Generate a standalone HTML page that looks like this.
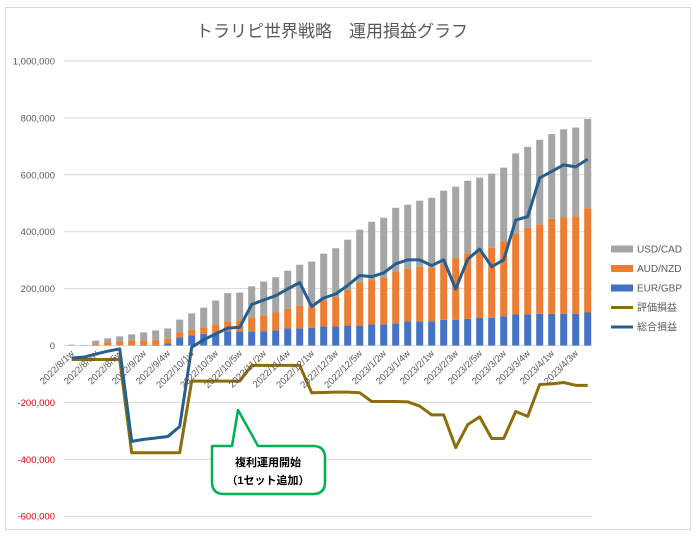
<!DOCTYPE html>
<html><head><meta charset="utf-8">
<style>
html,body{margin:0;padding:0;background:#fff;}
svg{display:block;font-family:"Liberation Sans","Noto Sans CJK JP",sans-serif;}
</style></head>
<body>
<svg id="chart" width="698" height="538" viewBox="0 0 698 538">
<rect x="5.5" y="7.5" width="685" height="522" fill="#fff" stroke="#d9d9d9"/>
<text x="332" y="37" text-anchor="middle" font-size="17" fill="#595959">トラリピ世界戦略　運用損益グラフ</text>
<g id="grid"></g>
<g id="yticks"></g>
<g id="bars"></g>
<g id="lines"></g>
<g id="xticks"></g>
<g>
<path d="M224,446 L212,446 Q212,446 212,458 L212,482 Q212,494 224,494 L313,494 Q325,494 325,482 L325,458 Q325,446 313,446 L258,446 L238,410 L232,446 Z" fill="#fff" stroke="#00b050" stroke-width="2.5" stroke-linejoin="round"/>
<text x="268" y="466" text-anchor="middle" font-size="11" font-weight="bold" fill="#000">複利運用開始</text>
<text x="268" y="484" text-anchor="middle" font-size="11" font-weight="bold" fill="#000">（1セット追加）</text>
</g>
<g id="legend"></g>
</svg>
<script>
const weeks = ["2022/8/1w","2022/8/2w","2022/8/3w","2022/8/4w","2022/8/5w","2022/9/1w","2022/9/2w","2022/9/3w","2022/9/4w","2022/9/5w","2022/10/1w","2022/10/2w","2022/10/3w","2022/10/4w","2022/10/5w","2022/11/1w","2022/11/2w","2022/11/3w","2022/11/4w","2022/11/5w","2022/12/1w","2022/12/2w","2022/12/3w","2022/12/4w","2022/12/5w","2023/1/1w","2023/1/2w","2023/1/3w","2023/1/4w","2023/1/5w","2023/2/1w","2023/2/2w","2023/2/3w","2023/2/4w","2023/2/5w","2023/3/1w","2023/3/2w","2023/3/3w","2023/3/4w","2023/3/5w","2023/4/1w","2023/4/2w","2023/4/3w","2023/4/4w"];
const eurgbp = [0,0,0,0,0,0,2000,2000,8000,29000,35000,41000,43000,50000,50000,50000,50000,53000,60000,60000,62000,67000,67000,70000,69000,74000,74000,78000,85000,85000,85000,90000,90000,94000,97000,97000,102000,109000,109000,111000,111000,111000,111000,116000];
const audnzd = [0,0,5000,12000,15000,18000,16000,18000,15000,18000,20000,23000,31000,35000,38000,49000,55000,63000,69000,80000,73000,91000,103000,125000,153000,156000,166000,183000,184000,192000,190000,199000,218000,230000,236000,246000,264000,285000,304000,314000,334000,339000,343000,366000];
const usdcad = [3000,2000,12000,13000,17000,21000,28000,33000,37000,44000,58000,69000,84000,99000,98000,109000,120000,124000,134000,144000,160000,165000,172000,177000,185000,205000,209000,223000,226000,232000,244000,255000,250000,255000,257000,261000,259000,281000,285000,298000,298000,310000,312000,314000];
const hyoka = [-49000,-49000,-49000,-49000,-49000,-377000,-377000,-377000,-377000,-377000,-125000,-125000,-125000,-125000,-125000,-70000,-70000,-70000,-70000,-70000,-166000,-165000,-164000,-164000,-166000,-197000,-197000,-197000,-198000,-213000,-244000,-244000,-359000,-278000,-251000,-327000,-327000,-232000,-249000,-137000,-135000,-130000,-140000,-140000];
const sogo = [-44000,-41000,-30000,-20000,-12000,-337000,-330000,-325000,-320000,-285000,-6000,20000,41000,61000,64000,144000,160000,175000,199000,221000,137000,167000,181000,211000,246000,242000,255000,287000,301000,301000,281000,301000,199000,303000,339000,277000,301000,441000,453000,589000,612000,635000,628000,655000];
const yTicks = [1000000,800000,600000,400000,200000,0,-200000,-400000,-600000];
const yTickLabels = ["1,000,000","800,000","600,000","400,000","200,000","0","-200,000","-400,000","-600,000"];

const NS="http://www.w3.org/2000/svg";
const X0=65.7, BAND=12, Y0=345.5, PX=284.5/1000000;
function xc(i){return X0+BAND*i+6;}
function y(v){return Y0-v*PX;}
function mk(tag,attrs,parent){const e=document.createElementNS(NS,tag);for(const k in attrs)e.setAttribute(k,attrs[k]);parent.appendChild(e);return e;}

const grid=document.getElementById('grid'), yt=document.getElementById('yticks');
yTicks.forEach((v,i)=>{
  const l=mk('line',{x1:64,x2:592,y1:y(v),y2:y(v),stroke:'#d9d9d9','stroke-width':1},grid);
  
  
  const t=mk('text',{x:55,y:y(v)+3.5,'text-anchor':'end','font-size':9.5,fill:v<0?'#e00000':'#595959'},yt);
  t.textContent=yTickLabels[i];
  
  
});

const bars=document.getElementById('bars');
weeks.forEach((w,i)=>{
  const segs=[[eurgbp[i],'#4472c4','bar-eur-gbp'],[audnzd[i],'#ed7d31','bar-aud-nzd'],[usdcad[i],'#a5a5a5','bar-usd-cad']];
  let base=0;
  segs.forEach(s=>{
    const top=base+s[0];
    const r=mk('rect',{x:xc(i)-3.5,y:y(top),width:7,height:Math.max(0,y(base)-y(top)),fill:s[1]},bars);
    
    
    base=top;
  });
});

const lines=document.getElementById('lines');
function drawLine(arr,color,name){
  const p=mk('polyline',{points:arr.map((v,i)=>xc(i)+','+y(v)).join(' '),fill:'none',stroke:color,'stroke-width':3,'stroke-linejoin':'round'},lines);
  
  
}
drawLine(hyoka,'#8c6d0b','line-hyoka-soneki');
drawLine(sogo,'#255e91','line-sogo-soneki');

const xt=document.getElementById('xticks');
weeks.forEach((w,i)=>{
  if(i%2) return;
  const x=xc(i)+3, yy=354;
  const t=mk('text',{x:x,y:yy,'text-anchor':'end','font-size':9.5,fill:'#595959',transform:`rotate(-45 ${x} ${yy})`},xt);
  t.textContent=w;
  
  
});

const legend=document.getElementById('legend');
const legItems=[['USD/CAD','#a5a5a5',7],['AUD/NZD','#ed7d31',7],['EUR/GBP','#4472c4',7],['評価損益','#8c6d0b',3],['総合損益','#255e91',3]];
legItems.forEach((it,i)=>{
  const yy=249+i*19.5;
  const r=mk('rect',{x:611,y:yy-it[2]/2,width:22,height:it[2],fill:it[1]},legend);
  
  
  const t=mk('text',{x:637,y:yy+3.5,'font-size':10,fill:'#595959'},legend);
  t.textContent=it[0];
  
  
});
</script>
</body></html>
